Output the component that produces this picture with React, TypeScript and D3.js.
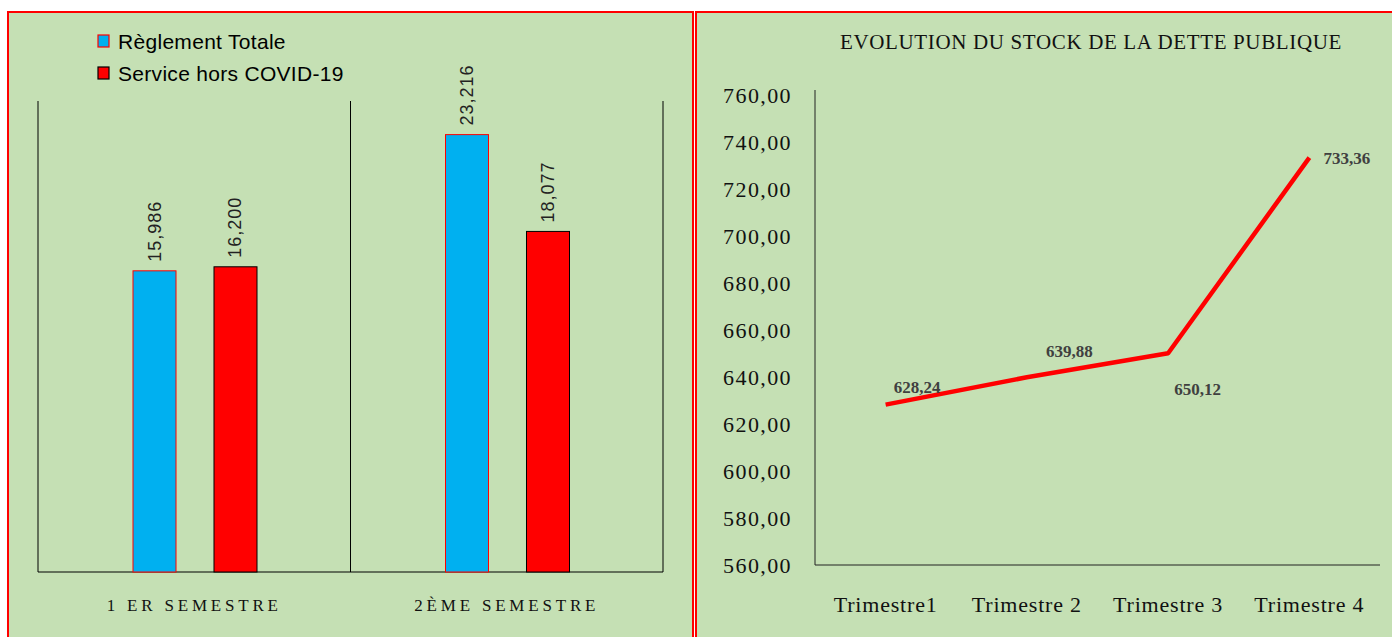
import * as d3 from 'd3';

const semesters = ['1 ER SEMESTRE', '2ÈME SEMESTRE'];
const seriesNames = ['Règlement Totale', 'Service hors COVID-19'];
const reglementTotale = [15.986, 23.216];
const serviceHorsCovid = [16.2, 18.077];

const trimestres = ['Trimestre1', 'Trimestre 2', 'Trimestre 3', 'Trimestre 4'];
const stockDette = [628.24, 639.88, 650.12, 733.36];
const yTicks = [560, 580, 600, 620, 640, 660, 680, 700, 720, 740, 760];

const BG = '#c5e0b4';
const BLUE = '#00b0f0';
const RED = '#ff0000';

const fmt3 = (v: number) => v.toFixed(3).replace('.', ',');
const fmt2 = (v: number) => v.toFixed(2).replace('.', ',');

const narrow = '"Liberation Sans Narrow", "Arial Narrow", Arial, sans-serif';
const serif = '"Liberation Serif", "Times New Roman", serif';

function BarPanel() {
  const x0 = d3.scaleBand().domain(semesters).range([38, 663]);
  // bars sit a bit left of the group centre, as in the source
  const x1 = d3.scaleBand().domain(seriesNames).range([95, 219]).paddingInner(0.469);
  const y = d3.scaleLinear().domain([0, 25]).range([572, 101]);
  const colors = [BLUE, RED];
  const strokes = [RED, '#000'];
  const values = [reglementTotale, serviceHorsCovid];

  return (
    <g>
      <rect x={8} y={12} width={685} height={640} fill={BG} stroke={RED} strokeWidth={2} />
      {/* legend */}
      {seriesNames.map((n, i) => (
        <g key={n} transform={`translate(98,${35 + i * 32})`}>
          <rect x={0} y={0} width={11} height={12} fill={colors[i]} stroke={strokes[i]} strokeWidth={1.2} />
          <text x={20} y={14} fontFamily={narrow} fontSize={21} letterSpacing={0.3} fill="#000">{n}</text>
        </g>
      ))}
      {/* group separators */}
      {[...semesters.map((s) => x0(s)!), 663].map((xv, i) => (
        <line key={i} x1={xv} x2={xv} y1={101} y2={572} stroke="#000" strokeWidth={1} />
      ))}
      <line x1={38} x2={663} y1={572} y2={572} stroke="#000" strokeWidth={1} />
      {semesters.map((s, si) => (
        <g key={s} transform={`translate(${x0(s)},0)`}>
          {seriesNames.map((n, i) => {
            const v = values[i][si];
            const bx = x1(n)!;
            const bw = x1.bandwidth();
            return (
              <g key={n}>
                <rect x={bx} y={y(v)} width={bw} height={572 - y(v)} fill={colors[i]} stroke={strokes[i]} strokeWidth={1} />
                <text
                  transform={`translate(${bx + bw / 2 + 6},${y(v) - 9}) rotate(-90)`}
                  fontFamily={narrow}
                  fontSize={18}
                  letterSpacing={1}
                  fill="#222"
                >
                  {fmt3(v)}
                </text>
              </g>
            );
          })}
          <text x={x0.bandwidth() / 2} y={611} textAnchor="middle" fontFamily={serif} fontSize={17} letterSpacing={3.8} fill="#111">
            {s}
          </text>
        </g>
      ))}
    </g>
  );
}

function LinePanel() {
  const x = d3.scalePoint().domain(trimestres).range([815, 1380]).padding(0.5);
  const y = d3.scaleLinear().domain([560, 760]).range([565, 95]);
  const line = d3
    .line<number>()
    .x((_, i) => x(trimestres[i])!)
    .y((d) => y(d));
  const labelOffsets = [
    [8, -12],
    [19, -20],
    [6, 42],
    [14, 6],
  ];

  return (
    <g>
      <rect x={696} y={12} width={710} height={640} fill={BG} stroke={RED} strokeWidth={2} />
      <text x={1091} y={49} textAnchor="middle" fontFamily={serif} fontSize={21} letterSpacing={0.65} fill="#111">
        EVOLUTION DU STOCK DE LA DETTE PUBLIQUE
      </text>
      <line x1={815} x2={815} y1={90} y2={565} stroke="#222" strokeWidth={1} />
      <line x1={815} x2={1380} y1={565} y2={565} stroke="#222" strokeWidth={1} />
      {yTicks.map((t) => (
        <text key={t} x={792} y={y(t) + 8} textAnchor="end" fontFamily={serif} fontSize={22} letterSpacing={1.4} fill="#111">
          {fmt2(t)}
        </text>
      ))}
      {trimestres.map((t) => (
        <text key={t} x={x(t)!} y={612} textAnchor="middle" fontFamily={serif} fontSize={22} letterSpacing={0.8} fill="#111">
          {t}
        </text>
      ))}
      <path d={line(stockDette)!} fill="none" stroke={RED} strokeWidth={4.5} strokeLinejoin="round" />
      {stockDette.map((v, i) => (
        <text
          key={i}
          x={x(trimestres[i])! + labelOffsets[i][0]}
          y={y(v) + labelOffsets[i][1]}
          fontFamily={serif}
          fontSize={17}
          fontWeight="bold"
          fill="#404040"
        >
          {fmt2(v)}
        </text>
      ))}
    </g>
  );
}

export default function App() {
  return (
    <svg width={1392} height={637} style={{ position: 'fixed', left: 0, top: 0, background: '#fff' }}>
      <BarPanel />
      <LinePanel />
    </svg>
  );
}
